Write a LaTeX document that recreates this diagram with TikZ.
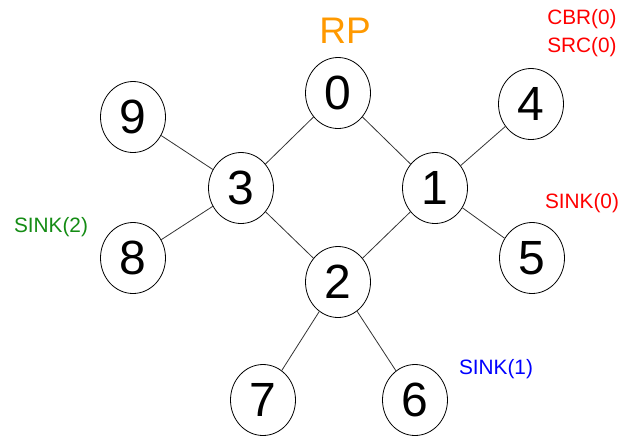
\documentclass[tikz,border=0pt]{standalone}
\usepackage{fontspec}
\setmainfont{Liberation Sans}
\usepackage{xcolor}
\usetikzlibrary{shapes.geometric}
\definecolor{rporange}{RGB}{255,153,0}
\definecolor{sinkgreen}{RGB}{20,140,20}
\tikzset{
    %Define style for the router nodes
    router/.style={
        ellipse,
        draw, thin,
        minimum width=32.5pt,
        minimum height=35.5pt,
        inner sep=0pt,
        font=\fontsize{24}{24}\selectfont},
    % Define link style
    link/.style={
        thin,
        draw=black!80},
    % Define style for the role labels
    role/.style={
        font=\fontsize{10.4}{12}\selectfont,
        inner sep=0pt}
}
\begin{document}
\begin{tikzpicture}[x=0.5pt, y=-0.5pt]
        \useasboundingbox (0,0) rectangle (622,435);
         %nodes
          \node[router] (n0) at (338,93) {0};
          \node[router] (n1) at (435,188) {1};
          \node[router] (n2) at (338,282) {2};
          \node[router] (n3) at (241,188) {3};
          \node[router] (n4) at (531,104) {4};
          \node[router] (n5) at (532,258) {5};
          \node[router] (n6) at (415,400) {6};
          \node[router] (n7) at (263,400) {7};
          \node[router] (n8) at (133,258) {8};
          \node[router] (n9) at (133,117) {9};
         % links
          \draw[link] (n0) -- (n3);
          \draw[link] (n0) -- (n1);
          \draw[link] (n3) -- (n2);
          \draw[link] (n1) -- (n2);
          \draw[link] (n9) -- (n3);
          \draw[link] (n8) -- (n3);
          \draw[link] (n4) -- (n1);
          \draw[link] (n5) -- (n1);
          \draw[link] (n2) -- (n7);
          \draw[link] (n2) -- (n6);
         % roles
          \node[text=rporange, font=\fontsize{18.5}{20}\selectfont] (rp) at (345,31) {RP};
          \node[role, text=red] (cbr) at (582,19) {CBR(0)};
          \node[role, text=red] (src) at (582,47) {SRC(0)};
          \node[role, text=red] (sink0) at (582,203) {SINK(0)};
          \node[role, text=blue] (sink1) at (496,369) {SINK(1)};
          \node[role, text=sinkgreen] (sink2) at (51,227) {SINK(2)};
\end{tikzpicture}
\end{document}
